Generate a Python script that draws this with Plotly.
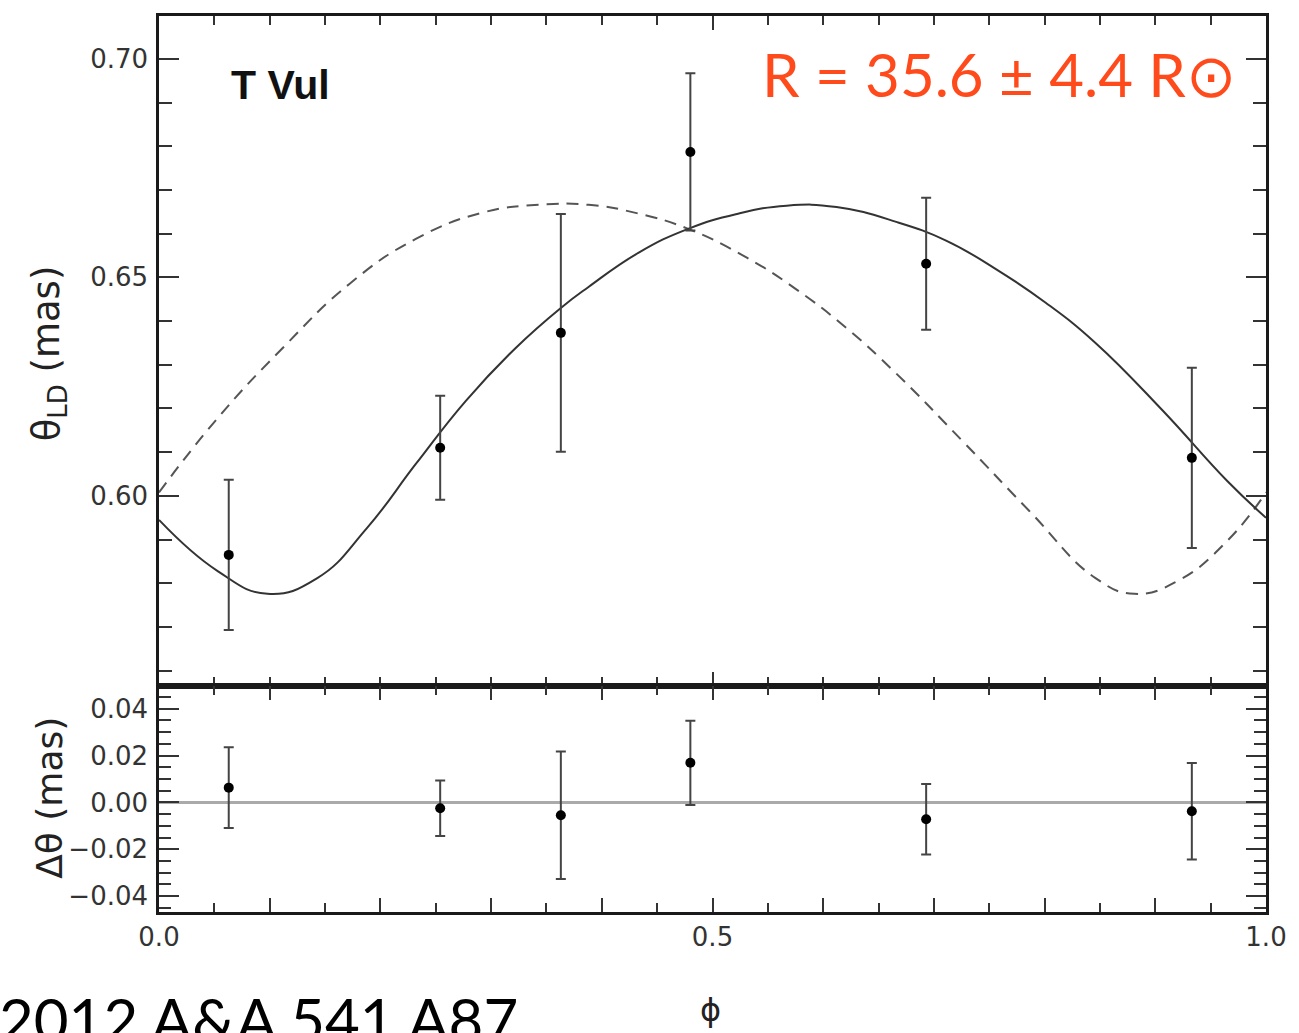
import plotly.graph_objects as go
from plotly.subplots import make_subplots

# ---- data ----
phase_obs = [0.063, 0.254, 0.363, 0.480, 0.693, 0.933]
theta_ld = [0.5865, 0.6110, 0.6373, 0.6787, 0.6531, 0.6087]
theta_err = [0.0172, 0.0119, 0.0272, 0.0180, 0.0151, 0.0206]
residual = [0.0063, -0.0025, -0.0055, 0.0169, -0.0072, -0.0038]

solid_phase = [0.0, 0.053, 0.098, 0.143, 0.188, 0.232, 0.277, 0.322, 0.363,
               0.388, 0.433, 0.478, 0.522, 0.567, 0.612, 0.666, 0.711, 0.756,
               0.801, 0.846, 0.906, 0.965, 1.0]
solid_vals = [0.5945, 0.5828, 0.5776, 0.5812, 0.5927, 0.6073, 0.6217, 0.6338, 0.6430,
              0.6478, 0.6556, 0.6611, 0.6645, 0.6664, 0.6661, 0.6627, 0.6584, 0.6519,
              0.6442, 0.6350, 0.6197, 0.6034, 0.5950]

dash_phase = [0.0, 0.053, 0.112, 0.172, 0.232, 0.292, 0.343, 0.388, 0.433, 0.478,
              0.531, 0.576, 0.621, 0.666, 0.726, 0.786, 0.846, 0.881, 0.920, 0.965, 1.0]
dash_vals = [0.6008, 0.6178, 0.6339, 0.6485, 0.6588, 0.6648, 0.6666, 0.6666, 0.6646, 0.6611,
             0.6545, 0.6472, 0.6384, 0.6280, 0.6125, 0.5966, 0.5812, 0.5776, 0.5805, 0.5897, 0.6008]

x_tickvals = [0.0, 0.1, 0.2, 0.3, 0.4, 0.5, 0.6, 0.7, 0.8, 0.9, 1.0]
x_ticktext = ["0.0", "", "", "", "", "0.5", "", "", "", "", "1.0"]

W, H = 1299, 1033
ML, MR, MT, MB = 159, 22, 16, 121
PW = W - ML - MR
PH = H - MT - MB


def px_x(p):
    return (p - 158) / (1272 - 158)


def px_y(p):
    return (912 - p) / (912 - 15)


fig = make_subplots(rows=2, cols=1, shared_xaxes=True, vertical_spacing=0,
                    row_heights=[670 / PH, 1 - 670 / PH])

fig.add_trace(go.Scatter(x=dash_phase, y=dash_vals, mode="lines",
                         line=dict(color="#555555", width=2, dash="12px,8px", shape="spline", smoothing=1.3),
                         hoverinfo="skip"), row=1, col=1)
fig.add_trace(go.Scatter(x=solid_phase, y=solid_vals, mode="lines",
                         line=dict(color="#333333", width=2, shape="spline", smoothing=1.3),
                         hoverinfo="skip"), row=1, col=1)
fig.add_trace(go.Scatter(x=phase_obs, y=theta_ld, mode="markers",
                         marker=dict(color="black", size=10),
                         error_y=dict(type="data", array=theta_err, color="#444444",
                                      thickness=2, width=5)), row=1, col=1)
fig.add_trace(go.Scatter(x=phase_obs, y=residual, mode="markers",
                         marker=dict(color="black", size=10),
                         error_y=dict(type="data", array=theta_err, color="#444444",
                                      thickness=2, width=5)), row=2, col=1)

axis_common = dict(showline=True, linecolor="#1a1a1a", linewidth=2.5, mirror="ticks",
                   ticks="inside", tickcolor="#333333", tickwidth=2, showgrid=False,
                   tickfont=dict(family="DejaVu Sans", size=26, color="#333333"))

fig.update_xaxes(**axis_common, zeroline=False, range=[0, 1], tickmode="array",
                 tickvals=x_tickvals, ticktext=x_ticktext, ticklen=14,
                 minor=dict(ticks="inside", dtick=0.05, tick0=0, ticklen=9,
                            tickcolor="#333333", tickwidth=2, showgrid=False))
fig.update_xaxes(showticklabels=False, row=1, col=1)
fig.update_xaxes(showticklabels=True, row=2, col=1)

fig.update_yaxes(**axis_common, row=1, col=1, zeroline=False,
                 range=[0.5565, 0.7098], dtick=0.05, tick0=0,
                 tickformat=".2f", ticklen=20, ticklabelstandoff=3,
                 minor=dict(ticks="inside", dtick=0.01, tick0=0, ticklen=13,
                            tickcolor="#333333", tickwidth=2, showgrid=False))
fig.update_yaxes(**axis_common, row=2, col=1,
                 range=[-0.0468, 0.0497], dtick=0.02, tick0=0,
                 tickformat=".2f", ticklen=20, ticklabelstandoff=3,
                 zeroline=True, zerolinecolor="#aaaaaa", zerolinewidth=2.5,
                 minor=dict(ticks="inside", dtick=0.005, tick0=0, ticklen=12,
                            tickcolor="#333333", tickwidth=2, showgrid=False))

annotations = [
    dict(text="<b>T Vul</b>", xref="paper", yref="paper", x=px_x(228), y=px_y(84),
         xanchor="left", yanchor="middle", showarrow=False,
         font=dict(family="Liberation Sans", size=41, color="#111111")),
    dict(text="R = 35.6 ± 4.4 R⊙", xref="paper", yref="paper", x=px_x(1244), y=px_y(73),
         xanchor="right", yanchor="middle", showarrow=False,
         font=dict(family="Lato", size=60, color="#FF4A1C")),
    dict(text="θ<sub>LD</sub> (mas)", xref="paper", yref="paper", x=px_x(47), y=px_y(353),
         xanchor="center", yanchor="middle", textangle=-90, showarrow=False,
         font=dict(family="DejaVu Sans", size=37, color="#222222")),
    dict(text="Δθ (mas)", xref="paper", yref="paper", x=px_x(47), y=px_y(798),
         xanchor="center", yanchor="middle", textangle=-90, showarrow=False,
         font=dict(family="DejaVu Sans", size=36, color="#222222")),
    dict(text="ϕ", xref="paper", yref="paper", x=px_x(713), y=px_y(1010),
         xanchor="center", yanchor="middle", showarrow=False,
         font=dict(family="DejaVu Sans", size=32, color="#222222")),
    dict(text="2012 A&amp;A 541 A87", xref="paper", yref="paper", x=px_x(-5), y=px_y(1019),
         xanchor="left", yanchor="middle", showarrow=False,
         font=dict(family="Lato", size=60, color="#000000")),
]

fig.update_layout(width=W, height=H, margin=dict(l=ML, r=MR, t=MT, b=MB),
                  paper_bgcolor="white", plot_bgcolor="white", showlegend=False,
                  annotations=annotations)

fig.write_html("out.html", config={"displayModeBar": False},
               post_script="document.body.style.margin='0';document.body.style.overflow='hidden';")
